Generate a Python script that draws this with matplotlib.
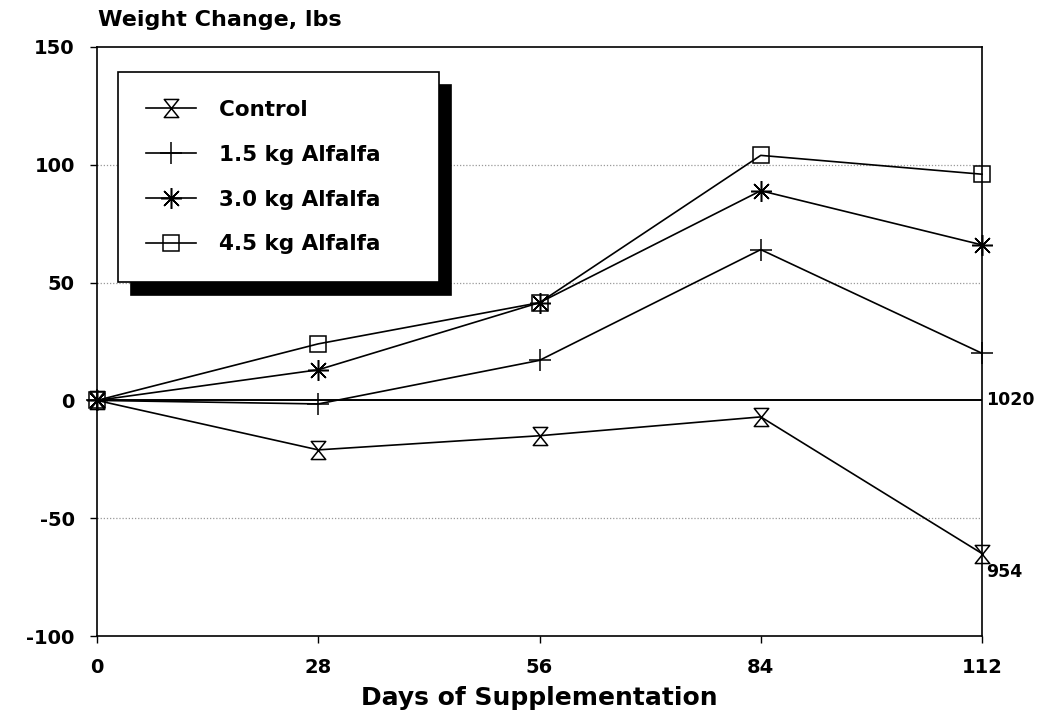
import matplotlib
matplotlib.use("Agg")
import matplotlib.pyplot as plt
from matplotlib.path import Path
import numpy as np

days = [0, 28, 56, 84, 112]
control = [0, -21, -15, -7, -65]
alf15 = [0, -1.5, 17, 64, 20]
alf30 = [0, 13, 41.5, 89, 66]
alf45 = [0, 24, 41.5, 104, 96]
labels = ["Control", "1.5 kg Alfalfa", "3.0 kg Alfalfa", "4.5 kg Alfalfa"]
yticks = [-100, -50, 0, 50, 100, 150]
ytick_labels = ["-100", "-50", "0", "50", "100", "150"]
end_notes = [("1020", 0), ("954", -73)]

plt.rcParams['font.family'] = ['DejaVu Sans']

fig = plt.figure(figsize=(10.39, 7.25), dpi=100)
ax = fig.add_axes([97/1039, 1-636/725, 885/1039, 589/725])

hourglass = Path([(-0.8, 1), (0.8, 1), (-0.8, -1), (0.8, -1), (-0.8, 1)],
                 [Path.MOVETO, Path.LINETO, Path.LINETO, Path.LINETO, Path.CLOSEPOLY])

common = dict(color='black', lw=1.2, markerfacecolor='none', markeredgecolor='black',
              markeredgewidth=1.1, clip_on=False, zorder=3)
ax.plot(days, control, marker=hourglass, markersize=13, label=labels[0], **common)
ax.plot(days, alf15, marker='+', markersize=16, label=labels[1], **common)
ax.plot(days, alf30, marker=(8, 2, 0), markersize=15, label=labels[2], **common)
ax.plot(days, alf45, marker='s', markersize=11, label=labels[3], **common)

ax.axhline(0, color='black', lw=1.4, zorder=2)
for g in [100, 50, -50]:
    ax.axhline(g, color='#999999', lw=0.9, ls=(0, (1, 1.5)), zorder=1)

ax.set_xlim(0, 112)
ax.set_ylim(-100, 150)
ax.set_xticks(days)
ax.set_xticklabels([str(d) for d in days])
ax.set_yticks(yticks)
ax.set_yticklabels(ytick_labels)
for s in ax.spines.values():
    s.set_linewidth(1.2)
ax.tick_params(axis='both', direction='out', length=5, width=1.0, labelsize=14)
ax.tick_params(axis='x', pad=11)
ax.tick_params(axis='y', pad=11)
for t in ax.get_xticklabels() + ax.get_yticklabels():
    t.set_fontweight('bold')

ax.set_xlabel("Days of Supplementation", fontsize=18, fontweight='bold', labelpad=6)
fig.text(98/1039, 1-20/725, "Weight Change, lbs", fontsize=16, fontweight='bold',
         ha='left', va='center')

for txt, yv in end_notes:
    ax.annotate(txt, xy=(112, yv), xytext=(3, 0), textcoords='offset points',
                ha='left', va='center', fontsize=12.5, fontweight='bold')

leg = ax.legend(loc='upper left', bbox_to_anchor=(118/1039, 1-72/725),
                bbox_transform=fig.transFigure, fontsize=15.5, frameon=True,
                fancybox=False, edgecolor='black', framealpha=1,
                borderpad=1.3, labelspacing=1.15, handlelength=2.3,
                handletextpad=1.1, borderaxespad=0,
                shadow={'ox': 9, 'oy': -9, 'color': 'black', 'alpha': 1})
leg.get_frame().set_linewidth(1.2)
for t in leg.get_texts():
    t.set_fontweight('bold')
    t.set_text(t.get_text() + "    ")

fig.savefig("out.png", dpi=100)
